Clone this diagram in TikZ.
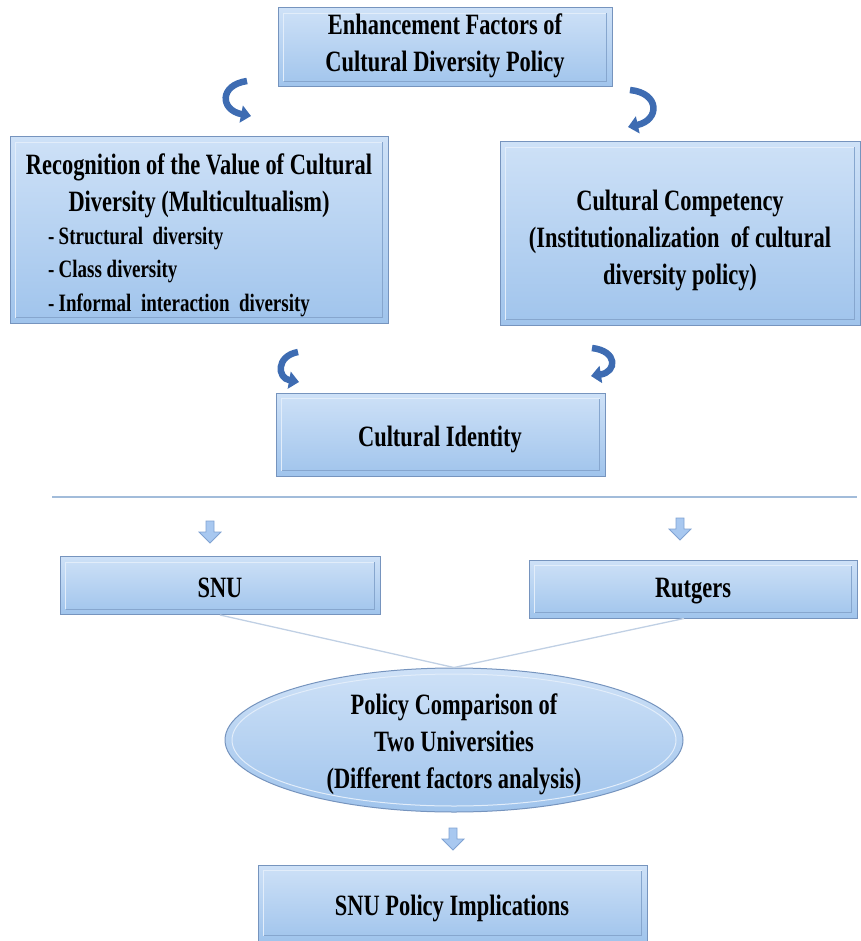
\documentclass[tikz,border=0pt]{standalone}
\usepackage{fontspec}
\setmainfont{Liberation Serif}[FakeStretch=0.76]
\usetikzlibrary{arrows.meta,shapes.geometric,calc}
\definecolor{boxtop}{RGB}{206,225,247}
\definecolor{boxbot}{RGB}{160,196,236}
\definecolor{boxline}{RGB}{118,148,190}
\definecolor{innerdark}{RGB}{134,166,206}
\definecolor{innerlight}{RGB}{226,237,250}
\definecolor{curvcol}{RGB}{62,108,178}
\definecolor{blkfill}{RGB}{168,200,240}
\definecolor{blkline}{RGB}{128,162,210}
\definecolor{hlcol}{RGB}{162,188,218}
\definecolor{thincol}{RGB}{192,208,228}
\tikzset{
  box/.style={rectangle, draw=boxline, line width=1pt, top color=boxtop, bottom color=boxbot, inner sep=0pt},
  big/.style={font=\bfseries\fontsize{29.5}{37}\selectfont, align=center, inner sep=0pt, text=black},
  small/.style={font=\bfseries\fontsize{25}{33.5}\selectfont, align=left, inner sep=0pt, text=black},
  curv/.style={draw=curvcol, line width=6.5pt, -{Triangle[width=17pt,length=10pt]}},
  hline/.style={draw=hlcol, line width=2pt},
  thinl/.style={draw=thincol, line width=1.3pt},
  pics/downarr/.style={code={
    \draw[fill=blkfill, draw=blkline, line width=0.8pt]
      (-4,0) -- (4,0) -- (4,11) -- (11,11) -- (0,22) -- (-11,11) -- (-4,11) -- cycle;
  }}
}
\newcommand{\mybevel}[1]{%
  \draw[innerlight, line width=1pt] ($(#1.south west)+(6,-6)$) |- ($(#1.north east)+(-6,6)$);
  \draw[innerdark, line width=1pt] ($(#1.south west)+(6,-6)$) -| ($(#1.north east)+(-6,6)$);
}
\begin{document}
\begin{tikzpicture}[x=1pt,y=-1pt]
\useasboundingbox (0,0) rectangle (860,941);
% boxes
\node[box, minimum width=334, minimum height=79] (top) at (445,47.5) {};
\node[box, minimum width=378, minimum height=186] (left) at (199,230) {};
\node[box, minimum width=360, minimum height=183] (right) at (680,233.5) {};
\node[box, minimum width=329, minimum height=83] (ident) at (440.5,434.5) {};
\node[box, minimum width=320, minimum height=58] (snu) at (220,585.5) {};
\node[box, minimum width=328, minimum height=58] (rut) at (693,589) {};
\node[box, minimum width=389, minimum height=76] (impl) at (452.5,903) {};
\mybevel{top}
\mybevel{left}
\mybevel{right}
\mybevel{ident}
\mybevel{snu}
\mybevel{rut}
\mybevel{impl}
% ellipse
\node[ellipse, draw=boxline, line width=1pt, top color=boxtop, bottom color=boxbot,
      minimum width=458, minimum height=144, inner sep=0pt] (ell) at (454,740) {};
\draw[innerlight, line width=1pt] (454,740) ellipse [x radius=222, y radius=66];
% texts
\node[big] (ttop) at (445,46) {Enhancement Factors of\\Cultural Diversity Policy};
\node[big] (tleft) at (199,186) {Recognition of the Value of Cultural\\Diversity (Multicultualism)};
\node[small, anchor=west] (titems) at (48,272) {-\,Structural\ \ diversity\\-\,Class diversity\\-\,Informal\ \ interaction\ \ diversity};
\node[big] (tright) at (680,240) {Cultural Competency\\(Institutionalization\ \ of cultural\\diversity policy)};
\node[big] (tident) at (440,439) {Cultural Identity};
\node[big] (tsnu) at (220,588) {SNU};
\node[big] (trut) at (693,591) {Rutgers};
\node[big] (tell) at (454,744) {Policy Comparison of\\Two Universities\\(Different factors analysis)};
\node[big] (timpl) at (452,908) {SNU Policy Implications};
% curved arrows
\draw[curv] (247,81) .. controls (219,85) and (220,110) .. (251,116);
\draw[curv] (630,90) .. controls (660,93) and (660,120) .. (628,127);
\draw[curv] (298,352) .. controls (276,356) and (277,378) .. (299,382);
\draw[curv] (592,348) .. controls (618,351) and (617,372) .. (591,376);
% separator
\coordinate (h1) at (52,497);
\coordinate (h2) at (857,497);
\draw[hline] (h1) -- (h2);
% block arrows
\pic at (210,521) {downarr};
\pic at (680,518) {downarr};
\pic at (453,828) {downarr};
% converging lines
\draw[thinl] (snu.south) -- (ell.north);
\draw[thinl] ([xshift=-9pt]rut.south) -- (ell.north);
\end{tikzpicture}
\end{document}
